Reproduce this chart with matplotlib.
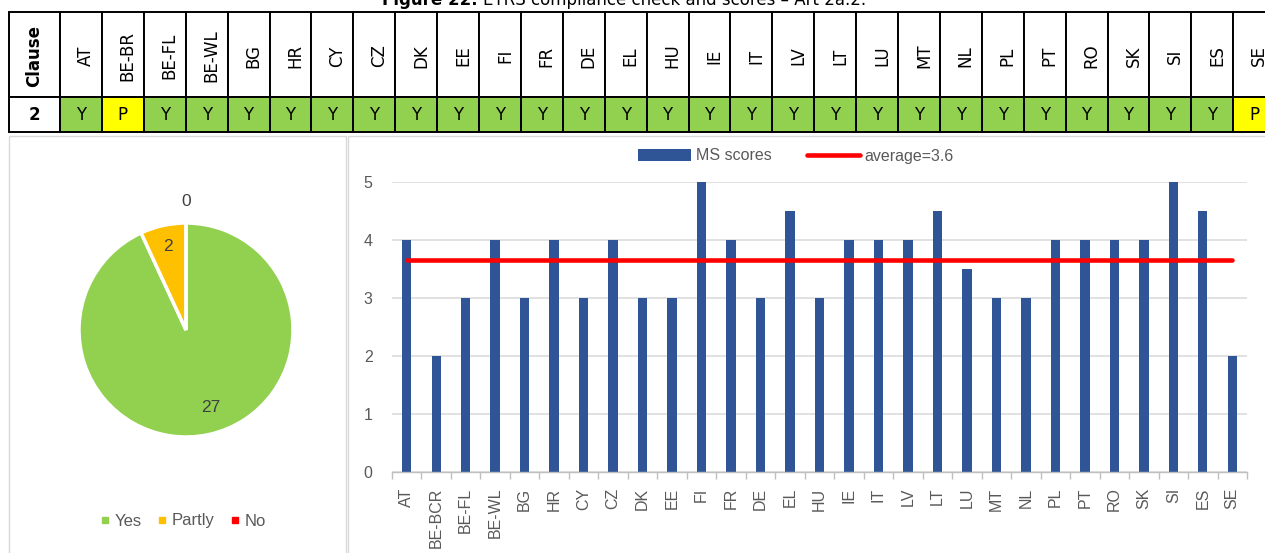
import numpy as np
import matplotlib
matplotlib.use('Agg')
import matplotlib.pyplot as plt
from matplotlib.patches import Rectangle, Patch
from matplotlib.lines import Line2D

W, H = 1265, 553

# compliance table
clause = '2'
table_codes = ['AT', 'BE-BR', 'BE-FL', 'BE-WL', 'BG', 'HR', 'CY', 'CZ', 'DK', 'EE',
               'FI', 'FR', 'DE', 'EL', 'HU', 'IE', 'IT', 'LV', 'LT', 'LU',
               'MT', 'NL', 'PL', 'PT', 'RO', 'SK', 'SI', 'ES', 'SE']
compliance = ['Y', 'P', 'Y', 'Y', 'Y', 'Y', 'Y', 'Y', 'Y', 'Y',
              'Y', 'Y', 'Y', 'Y', 'Y', 'Y', 'Y', 'Y', 'Y', 'Y',
              'Y', 'Y', 'Y', 'Y', 'Y', 'Y', 'Y', 'Y', 'P']

# pie: number of member states per answer
pie_labels = ['Yes', 'Partly', 'No']
pie_counts = [27, 2, 0]

# bar chart: score per member state
bar_labels = ['AT', 'BE-BCR', 'BE-FL', 'BE-WL', 'BG', 'HR', 'CY', 'CZ', 'DK', 'EE',
              'FI', 'FR', 'DE', 'EL', 'HU', 'IE', 'IT', 'LV', 'LT', 'LU',
              'MT', 'NL', 'PL', 'PT', 'RO', 'SK', 'SI', 'ES', 'SE']
ms_scores = [4, 2, 3, 4, 3, 4, 3, 4, 3, 3,
             5, 4, 3, 4.5, 3, 4, 4, 4, 4.5, 3.5,
             3, 3, 4, 4, 4, 4, 5, 4.5, 2]

cell_colors = {'Y': '#92D050', 'P': '#FFFF00', 'N': '#FF0000'}
pie_colors = ['#92D050', '#FFC000', '#FF0000']
bar_color = '#2F5597'
avg_color = '#FF0000'
text_grey = '#595959'
panel_grey = '#D9D9D9'

fig = plt.figure(figsize=(W / 100, H / 100), dpi=100)


def add_px_axes(left, top, width, height):
    return fig.add_axes([left / W, 1 - (top + height) / H, width / W, height / H])


# background layer for table, title and panel frames (pixel coordinates)
canvas = add_px_axes(0, 0, W, H)
canvas.set_xlim(0, W)
canvas.set_ylim(H, 0)
canvas.axis('off')

canvas.text(478, 5, 'Figure 22.', ha='right', va='baseline', fontsize=12,
            fontweight='bold', family='DejaVu Sans')
canvas.text(483, 5, 'ETRS compliance check and scores \u2013 Art 2a.2.', ha='left',
            va='baseline', fontsize=12, family='DejaVu Sans')

x0, first_w, col_w = 9, 51, 41.9
y_top, y_mid, y_bot = 12, 97, 132
line_kw = dict(edgecolor='black', linewidth=1.4)

canvas.add_patch(Rectangle((x0, y_top), first_w, y_mid - y_top, facecolor='white', **line_kw))
canvas.add_patch(Rectangle((x0, y_mid), first_w, y_bot - y_mid, facecolor='white', **line_kw))
canvas.text(x0 + first_w / 2, 56, 'Clause', rotation=90, ha='center', va='center',
            fontsize=12, fontweight='bold', family='DejaVu Sans')
canvas.text(x0 + first_w / 2, (y_mid + y_bot) / 2, clause, ha='center', va='center',
            fontsize=12, fontweight='bold', family='DejaVu Sans')

for i, (code, status) in enumerate(zip(table_codes, compliance)):
    cx = x0 + first_w + i * col_w
    canvas.add_patch(Rectangle((cx, y_top), col_w, y_mid - y_top, facecolor='white', **line_kw))
    canvas.add_patch(Rectangle((cx, y_mid), col_w, y_bot - y_mid,
                               facecolor=cell_colors[status], **line_kw))
    canvas.text(cx + col_w / 2 + 5, 56, code, rotation=90, ha='center', va='center',
                fontsize=12, family='DejaVu Sans')
    canvas.text(cx + col_w / 2, (y_mid + y_bot) / 2 + 1, status, ha='center', va='center',
                fontsize=12, family='DejaVu Sans')

# chart frames
canvas.add_patch(Rectangle((9, 136), 337, 430, fill=False, edgecolor=panel_grey, linewidth=1))
canvas.add_patch(Rectangle((348, 136), 930, 430, fill=False, edgecolor=panel_grey, linewidth=1))

# pie chart
pie_r = 107
pie_ax = add_px_axes(186 - 150, 330 - 150, 300, 300)
wedges, _ = pie_ax.pie(pie_counts, colors=pie_colors, startangle=90, counterclock=False,
                       wedgeprops=dict(edgecolor='white', linewidth=2.5))
lim = 150 / pie_r
pie_ax.set_xlim(-lim, lim)
pie_ax.set_ylim(-lim, lim)
pie_ax.set_aspect('equal')
pie_ax.axis('off')

# data labels: radius and small angular nudge per slice
label_r = [0.76, 0.80, 1.20]
label_turn = [5, 0, 0]
for w, count, r, turn in zip(wedges, pie_counts, label_r, label_turn):
    ang = np.deg2rad((w.theta1 + w.theta2) / 2 + turn)
    pie_ax.text(r * np.cos(ang), r * np.sin(ang), str(count), ha='center', va='center',
                fontsize=12.5, color='#404040', family='Liberation Sans')

pie_handles = [Line2D([], [], marker='s', linestyle='none', markersize=5,
                      markerfacecolor=c, markeredgecolor=c) for c in pie_colors]
fig.legend(pie_handles, pie_labels, loc='center', bbox_to_anchor=(183 / W, 1 - 521 / H),
           ncol=3, frameon=False, handlelength=0.6, handletextpad=0.3, columnspacing=0.9,
           prop=dict(family='Liberation Sans', size=12), labelcolor=text_grey)

# bar chart
bar_ax = add_px_axes(392, 182.3, 855, 290)
x = np.arange(len(bar_labels))
bar_ax.bar(x, ms_scores, width=0.32, color=bar_color, zorder=2, label='MS scores')

avg = np.mean(ms_scores)
avg_label = f'average={np.floor(avg * 10) / 10}'
bar_ax.plot([x[0], x[-1]], [avg, avg], color=avg_color, linewidth=3.3,
            solid_capstyle='round', zorder=3, label=avg_label)

bar_ax.set_xlim(-0.5, len(bar_labels) - 0.5)
bar_ax.set_ylim(0, 5)
bar_ax.set_yticks(range(6))
bar_ax.set_xticks(x)
bar_ax.set_xticklabels(bar_labels, rotation=90, family='Liberation Sans', fontsize=11.5,
                       color=text_grey)
bar_ax.set_xticks(np.arange(-0.5, len(bar_labels), 1), minor=True)
for lbl in bar_ax.get_yticklabels():
    lbl.set_family('Liberation Sans')
    lbl.set_fontsize(11.5)
    lbl.set_color(text_grey)
bar_ax.tick_params(axis='x', which='major', length=0, pad=11)
bar_ax.tick_params(axis='x', which='minor', length=5, width=1, color='#BFBFBF')
bar_ax.tick_params(axis='y', length=0, pad=14)
bar_ax.yaxis.grid(True, color=panel_grey, linewidth=1.1)
bar_ax.set_axisbelow(True)
for side in ['left', 'right', 'top']:
    bar_ax.spines[side].set_visible(False)
bar_ax.spines['bottom'].set_color('#BFBFBF')
bar_ax.spines['bottom'].set_linewidth(1)

bar_handles = [Patch(facecolor=bar_color),
               Line2D([], [], color=avg_color, linewidth=3.3, solid_capstyle='round')]
fig.legend(bar_handles, ['MS scores', avg_label], loc='center',
           bbox_to_anchor=(796 / W, 1 - 156 / H), ncol=2, frameon=False,
           handlelength=3.3, handletextpad=0.3, columnspacing=2.2,
           prop=dict(family='Liberation Sans', size=11.5), labelcolor=text_grey)

fig.savefig('out.png', dpi=100)
